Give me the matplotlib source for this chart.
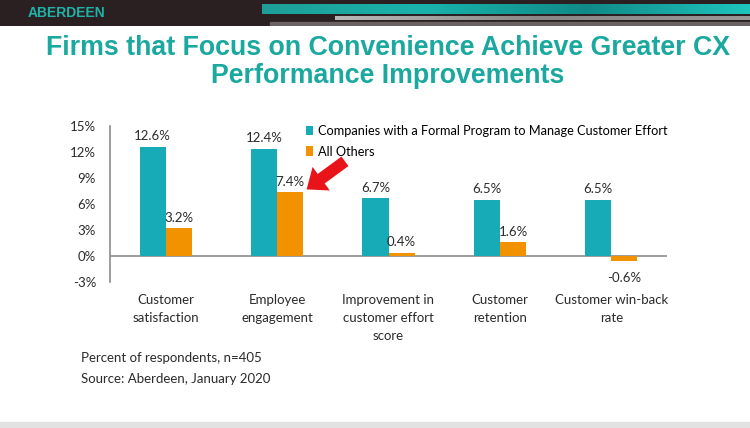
import numpy as np
import matplotlib
matplotlib.use("Agg")
import matplotlib.pyplot as plt
from matplotlib.patches import Rectangle

categories = ["Customer\nsatisfaction", "Employee\nengagement",
              "Improvement in\ncustomer effort\nscore", "Customer\nretention",
              "Customer win-back\nrate"]
formal = [12.6, 12.4, 6.7, 6.5, 6.5]
others = [3.2, 7.4, 0.4, 1.6, -0.6]
series_names = ["Companies with a Formal Program to Manage Customer Effort", "All Others"]
yticks = [-3, 0, 3, 6, 9, 12, 15]

TEAL = "#17aab7"
ORANGE = "#f39200"
TITLE = "#1aa89f"
TXT = "#2b2b2b"

plt.rcParams['font.family'] = ['Lato', 'DejaVu Sans']

fig = plt.figure(figsize=(7.5, 4.28), dpi=100)
fig.patch.set_facecolor("white")

# header band
hdr = fig.add_axes([0, 1 - 26/428, 1, 26/428])
hdr.set_xlim(0, 750); hdr.set_ylim(26, 0)
hdr.axis("off")
hdr.add_patch(Rectangle((0, 0), 750, 26, color="#2a2022"))
grad = np.linspace(0, 1, 200)[None, :]
hdr.imshow(grad, extent=(262, 750, 14, 4), cmap=matplotlib.colors.LinearSegmentedColormap.from_list(
    "t", ["#1e9e98", "#19b3ac", "#108a88", "#1fc4bd"]), aspect="auto", zorder=2)
hdr.imshow(grad, extent=(335, 750, 20, 16), cmap=matplotlib.colors.LinearSegmentedColormap.from_list(
    "g", ["#b8b8b8", "#8a8586", "#9a9596"]), aspect="auto", zorder=2)
hdr.add_patch(Rectangle((270, 22), 480, 3, color="#6b6264", zorder=2))
hdr.text(28, 13, "ABERDEEN", color="#1fb3a8", fontsize=10, fontweight="bold",
         va="center", ha="left", family=["Liberation Sans", "DejaVu Sans"])

# bottom grey strip
fig.patches.append(Rectangle((0, 0), 1, 6/428, transform=fig.transFigure,
                             color="#e2e2e2", zorder=0))

fig.text(388/750, 1 - 48/428, "Firms that Focus on Convenience Achieve Greater CX",
         ha="center", va="center", fontsize=19.3, fontweight="bold", color=TITLE,
         family=["Liberation Sans", "DejaVu Sans"])
fig.text(388/750, 1 - 76/428, "Performance Improvements",
         ha="center", va="center", fontsize=19.3, fontweight="bold", color=TITLE,
         family=["Liberation Sans", "DejaVu Sans"])

ax = fig.add_axes([110/750, 1 - 282/428, 557/750, 156/428])
x = np.arange(len(categories))
w = 0.235
b1 = ax.bar(x - w/2, formal, w, color=TEAL, label=series_names[0])
b2 = ax.bar(x + w/2, others, w, color=ORANGE, label=series_names[1])

for xi, v in zip(x - w/2, formal):
    ax.text(xi, v + 0.5, f"{v}%", ha="center", va="bottom", fontsize=9.5, color=TXT)
for xi, v in zip(x + w/2, others):
    if v >= 0:
        ax.text(xi, v + 0.5, f"{v}%", ha="center", va="bottom", fontsize=9.5, color=TXT)
    else:
        ax.text(xi, v - 1.2, f"{v}%", ha="center", va="top", fontsize=9.5, color=TXT)

ax.set_xlim(-0.5, len(categories) - 0.5)
ax.set_ylim(-3, 15)
ax.set_yticks(yticks)
ax.set_yticklabels([f"{t}%" for t in yticks], fontsize=9.5, color=TXT)
ax.axhline(0, color="#8c8c8c", lw=1.2, zorder=0)
for s in ["top", "right", "bottom"]:
    ax.spines[s].set_visible(False)
ax.spines["left"].set_color("#8c8c8c")
ax.spines["left"].set_linewidth(1.2)
ax.tick_params(axis="y", length=0, pad=10)
ax.set_xticks(x)
ax.set_xticklabels(categories, fontsize=9.5, color=TXT, linespacing=1.6)
ax.tick_params(axis="x", length=0, pad=9)

ax.legend(loc="upper left", bbox_to_anchor=(0.342, 1.04), frameon=False, fontsize=9.2,
          handlelength=0.6, handleheight=0.8, handletextpad=0.4, labelspacing=0.7,
          borderaxespad=0)

# red arrow pointing at the 7.4% bar
ax.annotate("", xy=(x[1] + w, others[1]), xytext=(30, 22), textcoords="offset points",
            arrowprops=dict(arrowstyle="simple,head_length=1.3,head_width=2.1,tail_width=0.85",
                            mutation_scale=10, color="#e8141a", lw=0, shrinkA=0, shrinkB=3))

fig.text(81/750, 1 - 358/428, "Percent of respondents, n=405", fontsize=9.5, color=TXT, va="center")
fig.text(81/750, 1 - 379/428, "Source: Aberdeen, January 2020", fontsize=9.5, color=TXT, va="center")

fig.savefig("out.png", dpi=100)
